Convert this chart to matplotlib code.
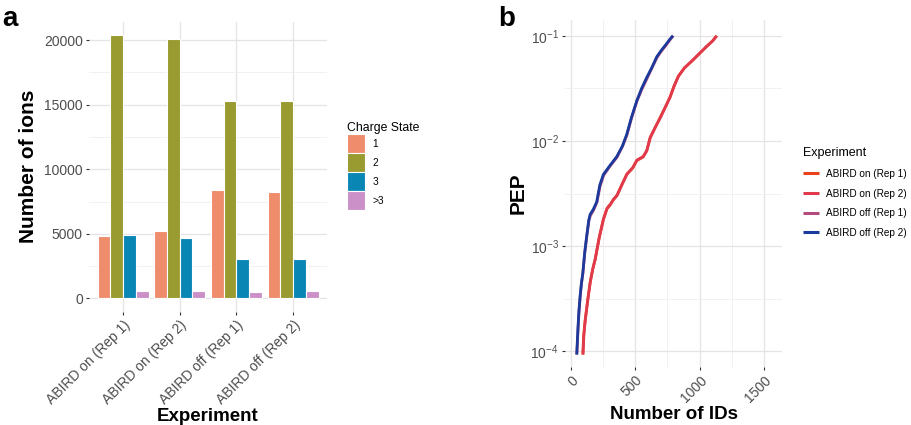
import numpy as np
import matplotlib
matplotlib.use("Agg")
import matplotlib.pyplot as plt
from matplotlib.ticker import FixedLocator, NullFormatter

plt.rcParams['font.family'] = ['Liberation Sans', 'DejaVu Sans']
plt.rcParams['mathtext.fontset'] = 'custom'
plt.rcParams['mathtext.rm'] = 'Liberation Sans'
plt.rcParams['mathtext.default'] = 'regular'

# ---------------- Panel a data ----------------
experiments = ["ABIRD on (Rep 1)", "ABIRD on (Rep 2)", "ABIRD off (Rep 1)", "ABIRD off (Rep 2)"]
charge_states = ["1", "2", "3", ">3"]
ions_z1 = [4840, 5250, 8420, 8240]
ions_z2 = [20390, 20100, 15310, 15260]
ions_z3 = [4940, 4710, 3060, 3060]
ions_zgt3 = [560, 540, 500, 590]
charge_colors = ["#EF8C6C", "#999A2F", "#0A86B5", "#CC90C8"]

# ---------------- Panel b data ----------------
on1_ids = [93, 100, 111, 130, 150, 170, 188, 220, 253, 280, 305, 330, 357, 395, 434,
           480, 512, 560, 589, 615, 650, 692, 730, 770, 800, 834, 880, 950, 1000, 1054, 1100, 1132]
on1_pep = [9.3e-5, 1.4e-4, 1.95e-4, 3.0e-4, 4.5e-4, 6.0e-4, 7.4e-4, 1.2e-3, 1.8e-3, 2.25e-3,
           2.45e-3, 2.75e-3, 3.0e-3, 3.8e-3, 4.8e-3, 5.5e-3, 6.5e-3, 7.0e-3, 8.0e-3, 1.07e-2,
           1.3e-2, 1.65e-2, 2.05e-2, 2.6e-2, 3.3e-2, 4.1e-2, 4.9e-2, 5.9e-2, 6.8e-2, 7.9e-2,
           8.9e-2, 1.0e-1]
on2_ids = [95, 102, 113, 132, 152, 171, 190, 222, 255, 282, 307, 333, 360, 398, 437,
           482, 515, 562, 592, 618, 652, 695, 733, 772, 803, 837, 882, 952, 1003, 1056, 1102, 1134]
on2_pep = [9.3e-5, 1.45e-4, 2.0e-4, 3.05e-4, 4.6e-4, 6.1e-4, 7.5e-4, 1.22e-3, 1.82e-3, 2.3e-3,
           2.5e-3, 2.8e-3, 3.05e-3, 3.85e-3, 4.85e-3, 5.6e-3, 6.6e-3, 7.1e-3, 8.2e-3, 1.08e-2,
           1.32e-2, 1.66e-2, 2.08e-2, 2.62e-2, 3.32e-2, 4.15e-2, 4.95e-2, 5.95e-2, 6.85e-2, 7.95e-2,
           8.95e-2, 1.0e-1]
off1_ids = [47, 56, 64, 73, 83, 94, 109, 125, 141, 152, 177, 203, 227, 255, 302, 359,
            402, 436, 472, 514, 552, 591, 632, 669, 702, 742, 772, 796]
off1_pep = [9.3e-5, 1.6e-4, 2.4e-4, 3.3e-4, 4.4e-4, 5.5e-4, 8.7e-4, 1.26e-3, 1.75e-3, 1.95e-3,
            2.2e-3, 2.6e-3, 3.7e-3, 4.7e-3, 5.7e-3, 7.0e-3, 8.9e-3, 1.14e-2, 1.65e-2, 2.4e-2,
            3.1e-2, 3.9e-2, 5.0e-2, 6.2e-2, 7.1e-2, 8.2e-2, 9.2e-2, 1.0e-1]
off2_ids = [46, 55, 63, 72, 82, 93, 108, 124, 140, 150, 175, 201, 225, 253, 300, 357,
            400, 434, 470, 512, 550, 589, 630, 667, 700, 740, 770, 793]
off2_pep = [9.3e-5, 1.6e-4, 2.4e-4, 3.3e-4, 4.4e-4, 5.5e-4, 8.7e-4, 1.26e-3, 1.78e-3, 2.0e-3,
            2.24e-3, 2.63e-3, 3.8e-3, 4.8e-3, 5.75e-3, 7.1e-3, 8.9e-3, 1.15e-2, 1.66e-2, 2.4e-2,
            3.16e-2, 4.0e-2, 5.0e-2, 6.3e-2, 7.2e-2, 8.3e-2, 9.3e-2, 1.0e-1]
exp_colors = ["#E8421E", "#E03A4C", "#B24C7E", "#1C3A9C"]

grid_major = "#E6E2E6"
grid_minor = "#F1EEF1"
tick_col = "#4D4D4D"

fig = plt.figure(figsize=(9.11, 4.25), dpi=100)

# ---------------- Panel a ----------------
axa = fig.add_axes([89/911, 1-311.5/425, (327-89)/911, (311.5-22)/425])
xpos = np.arange(1, len(experiments)+1)
bw = 0.225
series = [ions_z1, ions_z2, ions_z3, ions_zgt3]
for i, (vals, col, lab) in enumerate(zip(series, charge_colors, charge_states)):
    axa.bar(xpos + (i - 1.5)*bw, vals, width=bw, color=col, edgecolor="white",
            linewidth=0.8, label=lab, zorder=3)
axa.set_xlim(0.4, 4.6)
axa.set_ylim(-1020, 21405)
axa.set_yticks([0, 5000, 10000, 15000, 20000])
axa.yaxis.set_minor_locator(FixedLocator([2500, 7500, 12500, 17500]))
axa.set_xticks(xpos)
axa.set_xticklabels(experiments, rotation=45, ha="right", rotation_mode="anchor")
axa.grid(True, which="major", color=grid_major, linewidth=0.9, zorder=0)
axa.grid(True, which="minor", axis="y", color=grid_minor, linewidth=0.6, zorder=0)
for s in axa.spines.values():
    s.set_visible(False)
axa.tick_params(axis="both", which="major", length=2.5, width=0.8, color="#333333",
                labelcolor=tick_col, labelsize=10, pad=2)
axa.tick_params(axis="y", which="minor", length=0)
axa.set_ylabel("Number of ions", fontsize=15, fontweight="bold", labelpad=4)
axa.set_xlabel("Experiment", fontsize=13.5, fontweight="bold", labelpad=1)
axa.set_axisbelow(True)
leg = axa.legend(title="Charge State", loc="upper left", bbox_to_anchor=(1.067, 0.668),
                 frameon=False, fontsize=7.3, title_fontsize=8.8, handlelength=1.78,
                 handleheight=2.5, handletextpad=0.75, labelspacing=0.0, borderaxespad=0)
leg._legend_box.align = "left"

# ---------------- Panel b ----------------
axb = fig.add_axes([565/911, 1-367/425, (782-565)/911, (367-20)/425])
curves = [(on1_ids, on1_pep), (on2_ids, on2_pep), (off1_ids, off1_pep), (off2_ids, off2_pep)]
for (xs, ys), col, lab in zip(curves, exp_colors, experiments):
    axb.plot(xs, ys, color=col, linewidth=2.0, label=lab, zorder=3,
             solid_capstyle="butt")
axb.set_yscale("log")
axb.set_xlim(-45, 1640)
axb.set_ylim(10**-4.15, 10**-0.85)
axb.set_xticks([0, 500, 1000, 1500])
axb.xaxis.set_minor_locator(FixedLocator([250, 750, 1250]))
axb.set_yticks([1e-4, 1e-3, 1e-2, 1e-1])
axb.set_yticklabels([r"$10^{-4}$", r"$10^{-3}$", r"$10^{-2}$", r"$10^{-1}$"])
axb.yaxis.set_minor_locator(FixedLocator([10**-3.5, 10**-2.5, 10**-1.5]))
axb.yaxis.set_minor_formatter(NullFormatter())
axb.set_xticklabels(["0", "500", "1000", "1500"], rotation=45, ha="right",
                    rotation_mode="anchor")
axb.grid(True, which="major", color=grid_major, linewidth=0.9, zorder=0)
axb.grid(True, which="minor", color=grid_minor, linewidth=0.6, zorder=0)
for s in axb.spines.values():
    s.set_visible(False)
axb.tick_params(axis="both", which="major", length=2.5, width=0.8, color="#333333",
                labelcolor=tick_col, labelsize=10, pad=2)
axb.tick_params(axis="both", which="minor", length=0)
axb.set_ylabel("PEP", fontsize=15, fontweight="bold", labelpad=2)
axb.set_xlabel("Number of IDs", fontsize=13.5, fontweight="bold", labelpad=1)
axb.set_axisbelow(True)
legb = axb.legend(title="Experiment", loc="upper left", bbox_to_anchor=(1.078, 0.645),
                  frameon=False, fontsize=7.2, title_fontsize=9, handlelength=1.6,
                  handletextpad=0.75, labelspacing=0.97, borderaxespad=0)
legb._legend_box.align = "left"
for h in legb.get_lines():
    h.set_linewidth(2.2)

fig.text(0.003, 0.985, "a", fontsize=20, fontweight="bold", va="top", ha="left")
fig.text(498/911, 0.985, "b", fontsize=20, fontweight="bold", va="top", ha="left")

fig.savefig("out.png", dpi=100, facecolor="white")
